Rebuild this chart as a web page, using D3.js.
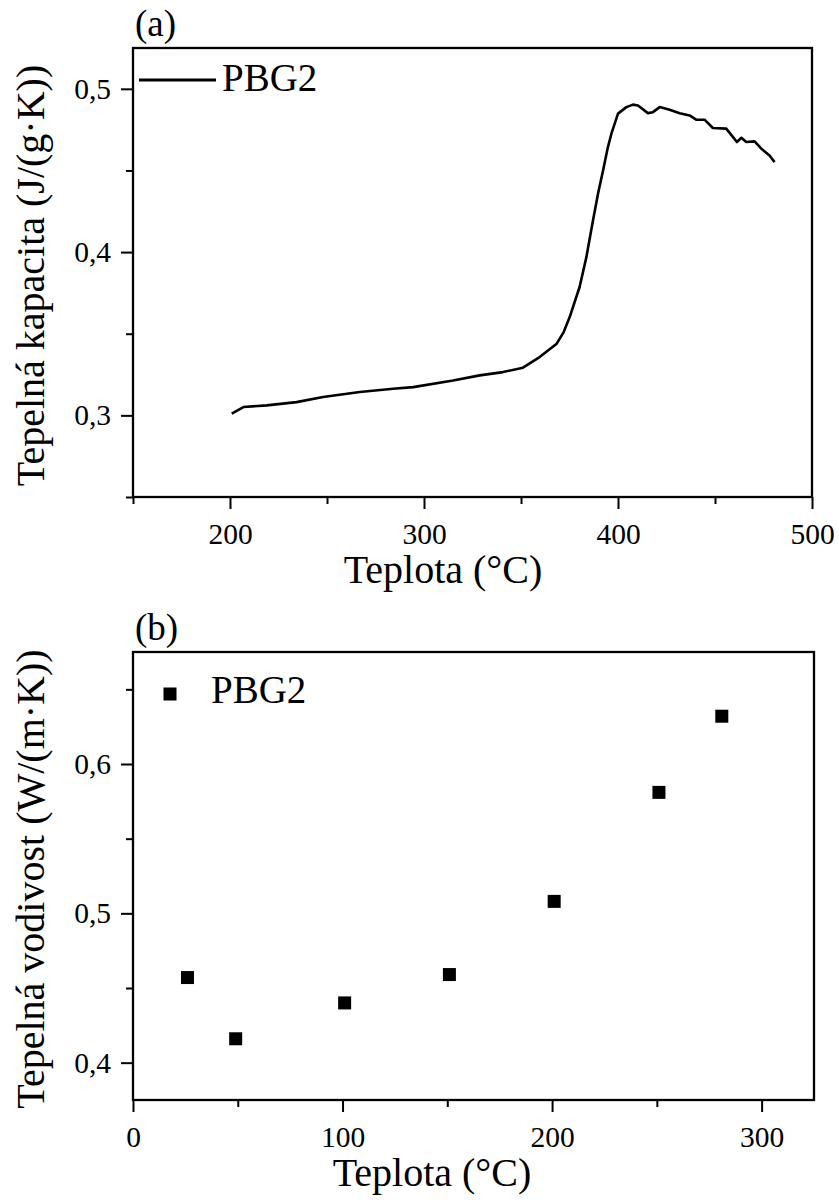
<!DOCTYPE html>
<html>
<head>
<meta charset="utf-8">
<script src="https://cdn.jsdelivr.net/npm/d3@7"></script>
<style>
  body { margin: 0; background: #fff; }
  svg text { font-family: "Liberation Serif", "Times New Roman", serif; fill: #000; }
</style>
</head>
<body>
<svg id="chart" width="839" height="1200"></svg>
<script>
// (a) heat capacity curve
const capTemp = [200.9, 206.9, 218.9, 234.3, 248, 266.9, 284.1, 294.4, 315, 328.7, 340.7, 351,
  359.6, 368.4, 372, 375.1, 380.2, 383.7, 387.1, 389.7, 392.3, 394.8, 396.6, 400, 404.3, 407.7,
  410.3, 415.4, 418, 421.5, 426.6, 431.8, 436.9, 440.3, 444.6, 448.9, 455.8, 459.3, 461.3,
  463.6, 466.1, 470.4, 473.9, 478.1, 480.7]
const capValue = [0.301, 0.3051, 0.3061, 0.3081, 0.3112, 0.3143, 0.3163, 0.3173, 0.3214, 0.3245,
  0.3265, 0.3292, 0.3357, 0.3439, 0.351, 0.3602, 0.3786, 0.3969, 0.4194, 0.4358, 0.45, 0.4643,
  0.4725, 0.4848, 0.4888, 0.4903, 0.4898, 0.4851, 0.4857, 0.4888, 0.4872, 0.4851, 0.4837,
  0.4811, 0.4811, 0.476, 0.4756, 0.4704, 0.4674, 0.47, 0.4674, 0.4678, 0.4633, 0.4592, 0.4551]

// (b) thermal conductivity points
const condTemp = [26, 49, 101, 151, 201, 251, 281]
const condValue = [0.457, 0.416, 0.44, 0.459, 0.508, 0.581, 0.632]

const capXTicks = [200, 300, 400, 500]
const capXMinor = [150, 250, 350, 450]
const capYTicks = [0.3, 0.4, 0.5]
const capYMinor = [0.25, 0.35, 0.45]
const condXTicks = [0, 100, 200, 300]
const condXMinor = [50, 150, 250]
const condYTicks = [0.4, 0.5, 0.6]
const condYMinor = [0.45, 0.55, 0.65]

const svg = d3.select('#chart')
const comma = d => String(d).replace('.', ',')

function drawPanel(p) {
  const x = d3.scaleLinear().domain(p.xDomain).range([p.left, p.right])
  const y = d3.scaleLinear().domain(p.yDomain).range([p.bottom, p.top])
  const g = svg.append('g')

  // minor ticks first, major ticks with labels on top
  const axes = [
    [d3.axisBottom(x).tickValues(p.xMinor).tickSize(7).tickFormat(''), `translate(0,${p.bottom})`],
    [d3.axisBottom(x).tickValues(p.xTicks).tickSize(12).tickPadding(14).tickFormat(d => d), `translate(0,${p.bottom})`],
    [d3.axisLeft(y).tickValues(p.yMinor).tickSize(7).tickFormat(''), `translate(${p.left},0)`],
    [d3.axisLeft(y).tickValues(p.yTicks).tickSize(12).tickPadding(10).tickFormat(comma), `translate(${p.left},0)`]
  ]
  axes.forEach(([axis, tr]) => {
    const a = g.append('g').attr('transform', tr).call(axis.tickSizeOuter(0))
    a.select('.domain').remove()
    a.selectAll('line').attr('stroke', '#000').attr('stroke-width', 2)
    a.selectAll('text').style('font-size', '29.5px').attr('fill', '#000')
  })

  g.append('rect')
    .attr('x', p.left).attr('y', p.top)
    .attr('width', p.right - p.left).attr('height', p.bottom - p.top)
    .attr('fill', 'none').attr('stroke', '#000').attr('stroke-width', 2.3)

  g.append('text').attr('x', p.left + 2).attr('y', p.top - 12)
    .style('font-size', '37px').text(p.tag)

  g.append('text').attr('x', p.xTitleX).attr('y', p.bottom + 86)
    .attr('text-anchor', 'middle').style('font-size', '40px').text('Teplota (°C)')

  g.append('text')
    .attr('transform', `translate(43.5,${(p.top + p.bottom) / 2 + 3}) rotate(-90)`)
    .attr('text-anchor', 'middle').style('font-size', '40px').text(p.yTitle)

  return { g, x, y }
}

// panel (a)
const a = drawPanel({
  left: 133, right: 812, top: 48, bottom: 497,
  xDomain: [150, 500], yDomain: [0.25, 0.525],
  xTicks: capXTicks, xMinor: capXMinor, yTicks: capYTicks, yMinor: capYMinor,
  tag: '(a)', xTitleX: 443, yTitle: 'Tepelná kapacita (J/(g·K))'
})
const capData = capTemp.map((t, i) => ({ t, v: capValue[i] }))
a.g.append('path')
  .datum(capData)
  .attr('fill', 'none').attr('stroke', '#000').attr('stroke-width', 2.6)
  .attr('stroke-linejoin', 'round')
  .attr('d', d3.line().x(d => a.x(d.t)).y(d => a.y(d.v)))
a.g.append('line').attr('x1', 139).attr('x2', 216).attr('y1', 80).attr('y2', 80)
  .attr('stroke', '#000').attr('stroke-width', 3)
a.g.append('text').attr('x', 222).attr('y', 91).style('font-size', '39px').text('PBG2')

// panel (b)
const b = drawPanel({
  left: 133, right: 814, top: 652, bottom: 1100,
  xDomain: [0, 325], yDomain: [0.375, 0.675],
  xTicks: condXTicks, xMinor: condXMinor, yTicks: condYTicks, yMinor: condYMinor,
  tag: '(b)', xTitleX: 432, yTitle: 'Tepelná vodivost (W/(m·K))'
})
const sq = 13
b.g.selectAll('rect.pt')
  .data(condTemp.map((t, i) => ({ t, v: condValue[i] })))
  .enter().append('rect')
  .attr('class', 'pt')
  .attr('x', d => b.x(d.t) - sq / 2)
  .attr('y', d => b.y(d.v) - sq / 2)
  .attr('width', sq).attr('height', sq)
  .attr('fill', '#000')
b.g.append('rect').attr('x', 170 - sq / 2).attr('y', 694 - sq / 2)
  .attr('width', sq).attr('height', sq).attr('fill', '#000')
b.g.append('text').attr('x', 211).attr('y', 703).style('font-size', '39px').text('PBG2')
</script>
</body>
</html>
